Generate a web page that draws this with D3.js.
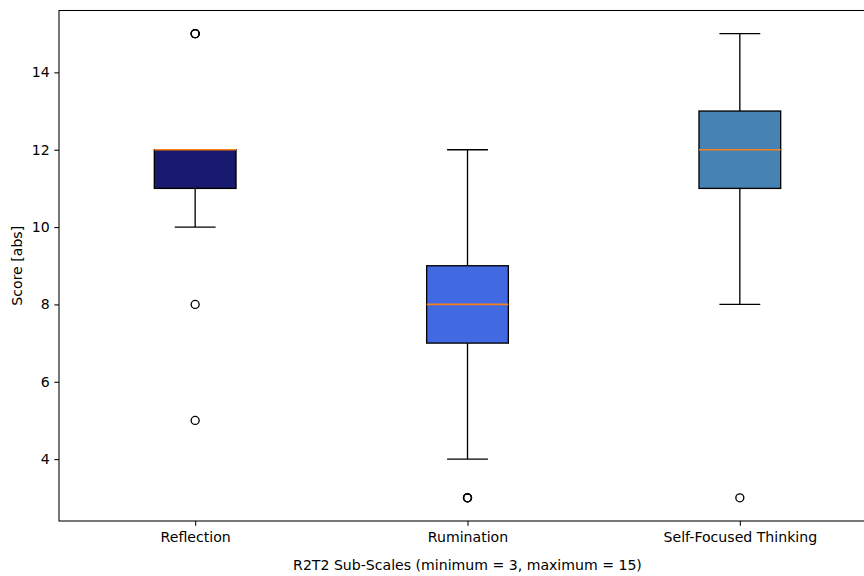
<!DOCTYPE html>
<html>
<head>
<meta charset="utf-8">
<script src="https://cdn.jsdelivr.net/npm/d3@7"></script>
<style>
  body { margin: 0; background: #fff; }
  text { font-family: "DejaVu Sans", sans-serif; }
</style>
</head>
<body>
<div id="chart"></div>
<script>
(function () {
    var width = 864,
        height = 576;

    // data
    var categories = ["Reflection", "Rumination", "Self-Focused Thinking"];
    var q1 = [11, 7, 11];
    var medians = [12, 8, 12];
    var q3 = [12, 9, 13];
    var whiskLow = [10, 4, 8];
    var whiskHigh = [12, 12, 15];
    var outliers = [[15, 15, 15, 8, 5], [3, 3, 3], [3]];
    var colors = ["#191970", "#4169e1", "#4682b4"];
    var yTicks = [4, 6, 8, 10, 12, 14];

    var margin = {left: 59, top: 10.5, bottom: 521, right: 876};
    var fs = "14.1px";

    var x = d3.scaleLinear().domain([0.5, 3.5]).range([margin.left, margin.right]);
    var y = d3.scaleLinear().domain([2.4, 15.6]).range([margin.bottom, margin.top]);

    var svg = d3.select("#chart")
        .append("svg")
        .attr("width", width)
        .attr("height", height);

    var boxW = 0.3, capW = 0.15;
    var lw = 1.33;

    var boxes = categories.map(function (c, i) {
        return {name: c, pos: i + 1, q1: q1[i], med: medians[i], q3: q3[i],
                lo: whiskLow[i], hi: whiskHigh[i], out: outliers[i], color: colors[i]};
    });

    var g = svg.selectAll(".box")
        .data(boxes)
        .enter().append("g")
        .attr("class", "box");

    // whiskers
    g.append("line")
        .attr("x1", function (d) { return x(d.pos); })
        .attr("x2", function (d) { return x(d.pos); })
        .attr("y1", function (d) { return y(d.q1); })
        .attr("y2", function (d) { return y(d.lo); })
        .attr("stroke", "#000").attr("stroke-width", lw);
    g.append("line")
        .attr("x1", function (d) { return x(d.pos); })
        .attr("x2", function (d) { return x(d.pos); })
        .attr("y1", function (d) { return y(d.q3); })
        .attr("y2", function (d) { return y(d.hi); })
        .attr("stroke", "#000").attr("stroke-width", lw);

    // caps
    g.append("line")
        .attr("x1", function (d) { return x(d.pos - capW / 2); })
        .attr("x2", function (d) { return x(d.pos + capW / 2); })
        .attr("y1", function (d) { return y(d.lo); })
        .attr("y2", function (d) { return y(d.lo); })
        .attr("stroke", "#000").attr("stroke-width", lw);
    g.append("line")
        .attr("x1", function (d) { return x(d.pos - capW / 2); })
        .attr("x2", function (d) { return x(d.pos + capW / 2); })
        .attr("y1", function (d) { return y(d.hi); })
        .attr("y2", function (d) { return y(d.hi); })
        .attr("stroke", "#000").attr("stroke-width", lw);

    // box
    g.append("rect")
        .attr("x", function (d) { return x(d.pos - boxW / 2); })
        .attr("width", function (d) { return x(d.pos + boxW / 2) - x(d.pos - boxW / 2); })
        .attr("y", function (d) { return y(d.q3); })
        .attr("height", function (d) { return y(d.q1) - y(d.q3); })
        .attr("fill", function (d) { return d.color; })
        .attr("stroke", "#000").attr("stroke-width", lw);

    // median
    g.append("line")
        .attr("x1", function (d) { return x(d.pos - boxW / 2); })
        .attr("x2", function (d) { return x(d.pos + boxW / 2); })
        .attr("y1", function (d) { return y(d.med); })
        .attr("y2", function (d) { return y(d.med); })
        .attr("stroke", "#f5801e").attr("stroke-width", 1.6);

    // fliers
    g.selectAll(".flier")
        .data(function (d) { return d.out.map(function (v) { return {pos: d.pos, v: v}; }); })
        .enter().append("circle")
        .attr("class", "flier")
        .attr("cx", function (d) { return x(d.pos); })
        .attr("cy", function (d) { return y(d.v); })
        .attr("r", 4)
        .attr("fill", "none")
        .attr("stroke", "#000").attr("stroke-width", lw);

    // axes
    var yAxis = d3.axisLeft(y).tickValues(yTicks).tickSize(4.67).tickPadding(4.7);
    var ya = svg.append("g")
        .attr("transform", "translate(" + margin.left + ",0)")
        .call(yAxis);
    var xAxis = d3.axisBottom(x).tickValues([1, 2, 3])
        .tickFormat(function (d) { return categories[d - 1]; })
        .tickSize(4.67).tickPadding(6.5);
    var xa = svg.append("g")
        .attr("transform", "translate(0," + margin.bottom + ")")
        .call(xAxis);

    [ya, xa].forEach(function (a) {
        a.selectAll("text").attr("font-size", fs).attr("fill", "#000")
            .attr("font-family", "DejaVu Sans, sans-serif");
        a.selectAll("line").attr("stroke", "#000").attr("stroke-width", 1.07);
        a.select(".domain").remove();
    });

    // spines
    svg.append("rect")
        .attr("x", margin.left)
        .attr("y", margin.top)
        .attr("width", margin.right - margin.left)
        .attr("height", margin.bottom - margin.top)
        .attr("fill", "none")
        .attr("stroke", "#000")
        .attr("stroke-width", 1.07);

    svg.append("text")
        .attr("x", (margin.left + margin.right) / 2)
        .attr("y", 570)
        .attr("text-anchor", "middle")
        .attr("font-size", fs)
        .text("R2T2 Sub-Scales (minimum = 3, maximum = 15)");

    svg.append("text")
        .attr("transform", "translate(22," + ((margin.top + margin.bottom) / 2) + ") rotate(-90)")
        .attr("text-anchor", "middle")
        .attr("font-size", fs)
        .text("Score [abs]");
})();
</script>
</body>
</html>
